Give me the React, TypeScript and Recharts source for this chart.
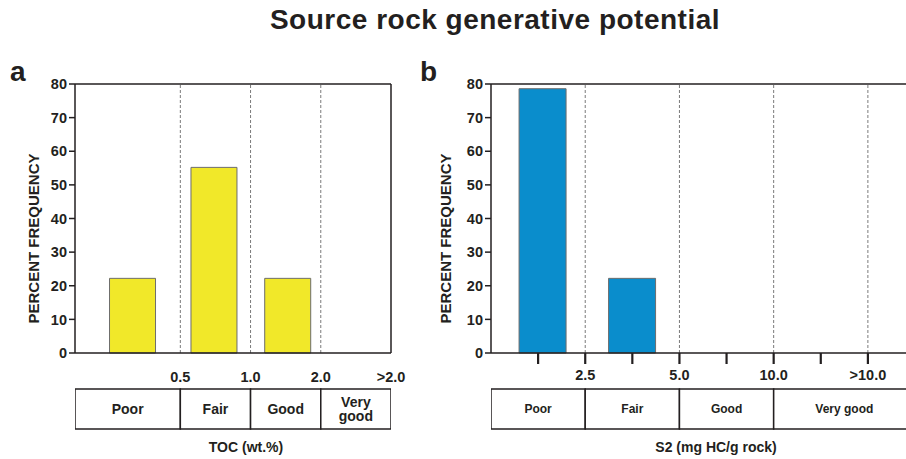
import React from "react";
import { BarChart, Bar, XAxis, YAxis, ReferenceLine } from "recharts";

const FONT = "'Liberation Sans', Arial, Helvetica, sans-serif";
const INK = "#231f20";

const classNames = ["Poor", "Fair", "Good", "Very good"];
const freqTicks = [0, 10, 20, 30, 40, 50, 60, 70, 80];

// panel a: TOC (wt.%) on a class axis (Poor class is 1.5 units wide)
const tocFreq = [22.2, 55.2, 22.2, 0];
const tocBarPos = [0.82, 1.98, 3.03, 4.0];
const tocEdges = [0, 1.5, 2.5, 3.5, 4.5];
const tocTicks = [1.5, 2.5, 3.5, 4.5];
const tocTickLabels = ["0.5", "1.0", "2.0", ">2.0"];
const tocDashed = [1.5, 2.5, 3.5];
const tocCellText = ["Poor", "Fair", "Good", "Very\ngood"];

// panel b: S2 (mg HC/g rock)
const s2Freq = [78.6, 22.2, 0, 0];
const s2BarPos = [0.55, 1.5, 2.5, 3.75];
const s2Edges = [0, 1, 2, 3, 4.5];
const s2Ticks = [0.5, 1, 1.5, 2, 2.5, 3, 3.5, 4];
const s2TickLabels = ["", "2.5", "", "5.0", "", "10.0", "", ">10.0"];
const s2Dashed = [1, 2, 3, 4];
const s2CellText = classNames;

type PanelProps = {
  letter: string;
  left: number;
  width: number;
  axisWidth: number;
  marginRight: number;
  freq: number[];
  barPos: number[];
  barSize: number;
  color: string;
  ticks: number[];
  tickLabels: string[];
  showTickLines: boolean;
  dashed: number[];
  boxRight: boolean;
  edges: number[];
  cellText: string[];
  cellFont: number;
  xTitle: string;
  yLabelOffset: number;
};

function cellLabel(text: string, fontSize: number) {
  return (props: any) => {
    const vb = props.viewBox || props;
    const x = (props.x ?? vb.x) + (props.width ?? vb.width) / 2;
    const y = (props.y ?? vb.y) + (props.height ?? vb.height) / 2;
    const lines = text.split("\n");
    const lh = fontSize * 1.05;
    return (
      <text
        x={x}
        y={y}
        textAnchor="middle"
        fontSize={fontSize}
        fontWeight="bold"
        fill={INK}
      >
        {lines.map((l, i) => (
          <tspan
            key={i}
            x={x}
            dy={i === 0 ? (-(lines.length - 1) / 2) * lh + fontSize * 0.36 : lh}
          >
            {l}
          </tspan>
        ))}
      </text>
    );
  };
}

function Panel(p: PanelProps) {
  const rows = p.freq.map((v, i) => ({ x: p.barPos[i], v, name: classNames[i] }));
  const tableRow: Record<string, any> = { name: "row" };
  p.edges.slice(1).forEach((e, i) => {
    tableRow["c" + i] = e - p.edges[i];
  });
  const domain = [p.edges[0], p.edges[p.edges.length - 1]];
  const tickFont = { fontSize: 14.5, fontWeight: "bold", fill: INK };

  return (
    <>
      <div
        style={{
          position: "absolute",
          left: p.left + 10,
          top: 58,
          fontSize: 28,
          fontWeight: "bold",
          lineHeight: 1,
          color: INK,
        }}
      >
        {p.letter}
      </div>
      <div style={{ position: "absolute", left: p.left, top: 0 }}>
        <BarChart
          width={p.width}
          height={388}
          data={rows}
          margin={{ top: 84, right: p.marginRight, bottom: 0, left: 0 }}
        >
          <XAxis
            dataKey="x"
            type="number"
            domain={domain}
            ticks={p.ticks}
            interval={0}
            allowDataOverflow
            height={35}
            tickSize={p.showTickLines ? 11 : 0}
            tickMargin={p.showTickLines ? 6 : 19}
            tickFormatter={(v: number) => p.tickLabels[p.ticks.indexOf(v)] ?? ""}
            tick={tickFont}
            axisLine={{ stroke: INK, strokeWidth: 1.5 }}
            tickLine={p.showTickLines ? { stroke: INK, strokeWidth: 2.2 } : false}
          />
          <YAxis
            type="number"
            domain={[0, 80]}
            ticks={freqTicks}
            interval={0}
            width={p.axisWidth}
            tickSize={6}
            tickMargin={2}
            tick={tickFont}
            axisLine={{ stroke: INK, strokeWidth: 1.5 }}
            tickLine={{ stroke: INK, strokeWidth: 1.5 }}
            label={{
              value: "PERCENT FREQUENCY",
              angle: -90,
              position: "insideLeft",
              offset: p.yLabelOffset,
              dy: 20,
              fontSize: 15,
              fontWeight: "bold",
              fill: INK,
              style: { textAnchor: "middle" },
            }}
          />
          {p.dashed.map((d) => (
            <ReferenceLine key={d} x={d} stroke="#7a7a7a" strokeDasharray="3 2" />
          ))}
          <ReferenceLine y={80} stroke={INK} strokeWidth={1.5} />
          {p.boxRight && <ReferenceLine x={domain[1]} stroke={INK} strokeWidth={1.5} />}
          <Bar
            dataKey="v"
            fill={p.color}
            stroke="#6d6d6d"
            strokeWidth={1}
            barSize={p.barSize}
            isAnimationActive={false}
          />
        </BarChart>
      </div>
      <div style={{ position: "absolute", left: p.left, top: 388 }}>
        <BarChart
          width={p.width}
          height={71}
          layout="vertical"
          data={[tableRow]}
          barCategoryGap={0}
          margin={{ top: 1, right: p.marginRight, bottom: 0, left: p.axisWidth }}
        >
          <XAxis
            type="number"
            domain={domain}
            allowDataOverflow
            height={30}
            axisLine={false}
            tickLine={false}
            tick={false}
            label={{
              value: p.xTitle,
              position: "center",
              dx: 13,
              dy: 3,
              fontSize: 14,
              fontWeight: "bold",
              fill: INK,
            }}
          />
          <YAxis type="category" dataKey="name" hide />
          {p.cellText.map((t, i) => (
            <Bar
              key={i}
              dataKey={"c" + i}
              stackId="t"
              fill="#ffffff"
              stroke={INK}
              strokeWidth={1.5}
              isAnimationActive={false}
              label={cellLabel(t, p.cellFont)}
            />
          ))}
        </BarChart>
      </div>
    </>
  );
}

export default function App() {
  return (
    <div
      style={{
        position: "fixed",
        left: 0,
        top: 0,
        width: 906,
        height: 459,
        overflow: "hidden",
        background: "#fff",
        fontFamily: FONT,
        color: INK,
      }}
    >
      <div
        style={{
          position: "absolute",
          left: 0,
          width: 990,
          top: 6,
          textAlign: "center",
          fontSize: 28,
          letterSpacing: 0.5,
          fontWeight: "bold",
          lineHeight: 1,
        }}
      >
        Source rock generative potential
      </div>
      <Panel
        letter="a"
        left={0}
        width={420}
        axisWidth={75}
        marginRight={29}
        freq={tocFreq}
        barPos={tocBarPos}
        barSize={46}
        color="#f1e829"
        ticks={tocTicks}
        tickLabels={tocTickLabels}
        showTickLines={false}
        dashed={tocDashed}
        boxRight
        edges={tocEdges}
        cellText={tocCellText}
        cellFont={14}
        xTitle="TOC (wt.%)"
        yLabelOffset={34}
      />
      <Panel
        letter="b"
        left={410}
        width={510}
        axisWidth={81}
        marginRight={5}
        freq={s2Freq}
        barPos={s2BarPos}
        barSize={47}
        color="#0a8dcc"
        ticks={s2Ticks}
        tickLabels={s2TickLabels}
        showTickLines
        dashed={s2Dashed}
        boxRight={false}
        edges={s2Edges}
        cellText={s2CellText}
        cellFont={12}
        xTitle="S2 (mg HC/g rock)"
        yLabelOffset={36}
      />
    </div>
  );
}
